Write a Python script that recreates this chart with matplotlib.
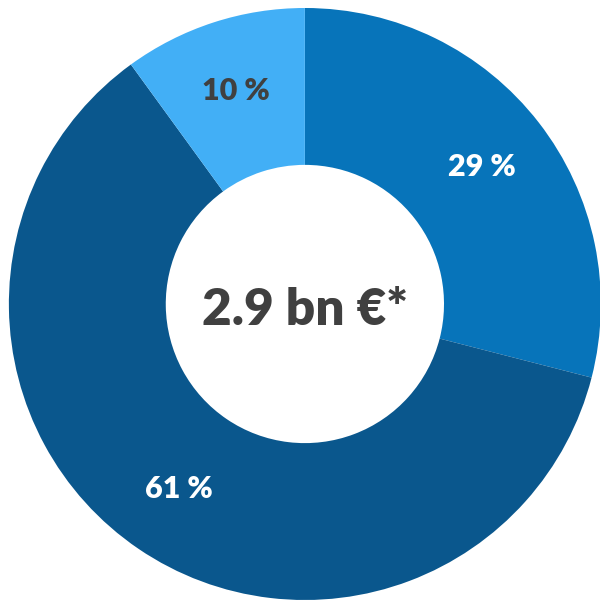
import matplotlib.pyplot as plt
import numpy as np

shares = [29, 61, 10]
labels = ['29 %', '61 %', '10 %']
colors = ['#0774BA', '#0A578D', '#42AFF6']
label_colors = ['white', 'white', '#404040']
total_text = '2.9 bn €*'

plt.rcParams['font.family'] = ['Lato', 'DejaVu Sans']

fig = plt.figure(figsize=(6, 6), dpi=100)
ax = fig.add_axes([0, 0, 1, 1])

wedges, _ = ax.pie(shares, colors=colors, startangle=90, counterclock=False,
                   radius=1, wedgeprops=dict(width=0.53, linewidth=0))

# percentage labels in the middle of the ring
angle = 90.0
for w, lab, c in zip(shares, labels, label_colors):
    mid = np.deg2rad(angle - w * 3.6 / 2)
    r = 0.755
    ax.text(r * np.cos(mid), r * np.sin(mid), lab, ha='center', va='center',
            fontsize=22, fontweight='heavy', color=c)
    angle -= w * 3.6

ax.text(0, -0.02, total_text, ha='center', va='center', fontsize=37,
        fontweight='heavy', color='#404040')

ax.set_xlim(-1.030, 0.997)
ax.set_ylim(-1.0, 1.027)
ax.set_aspect('auto')
ax.axis('off')

fig.savefig('out.png', dpi=100)
